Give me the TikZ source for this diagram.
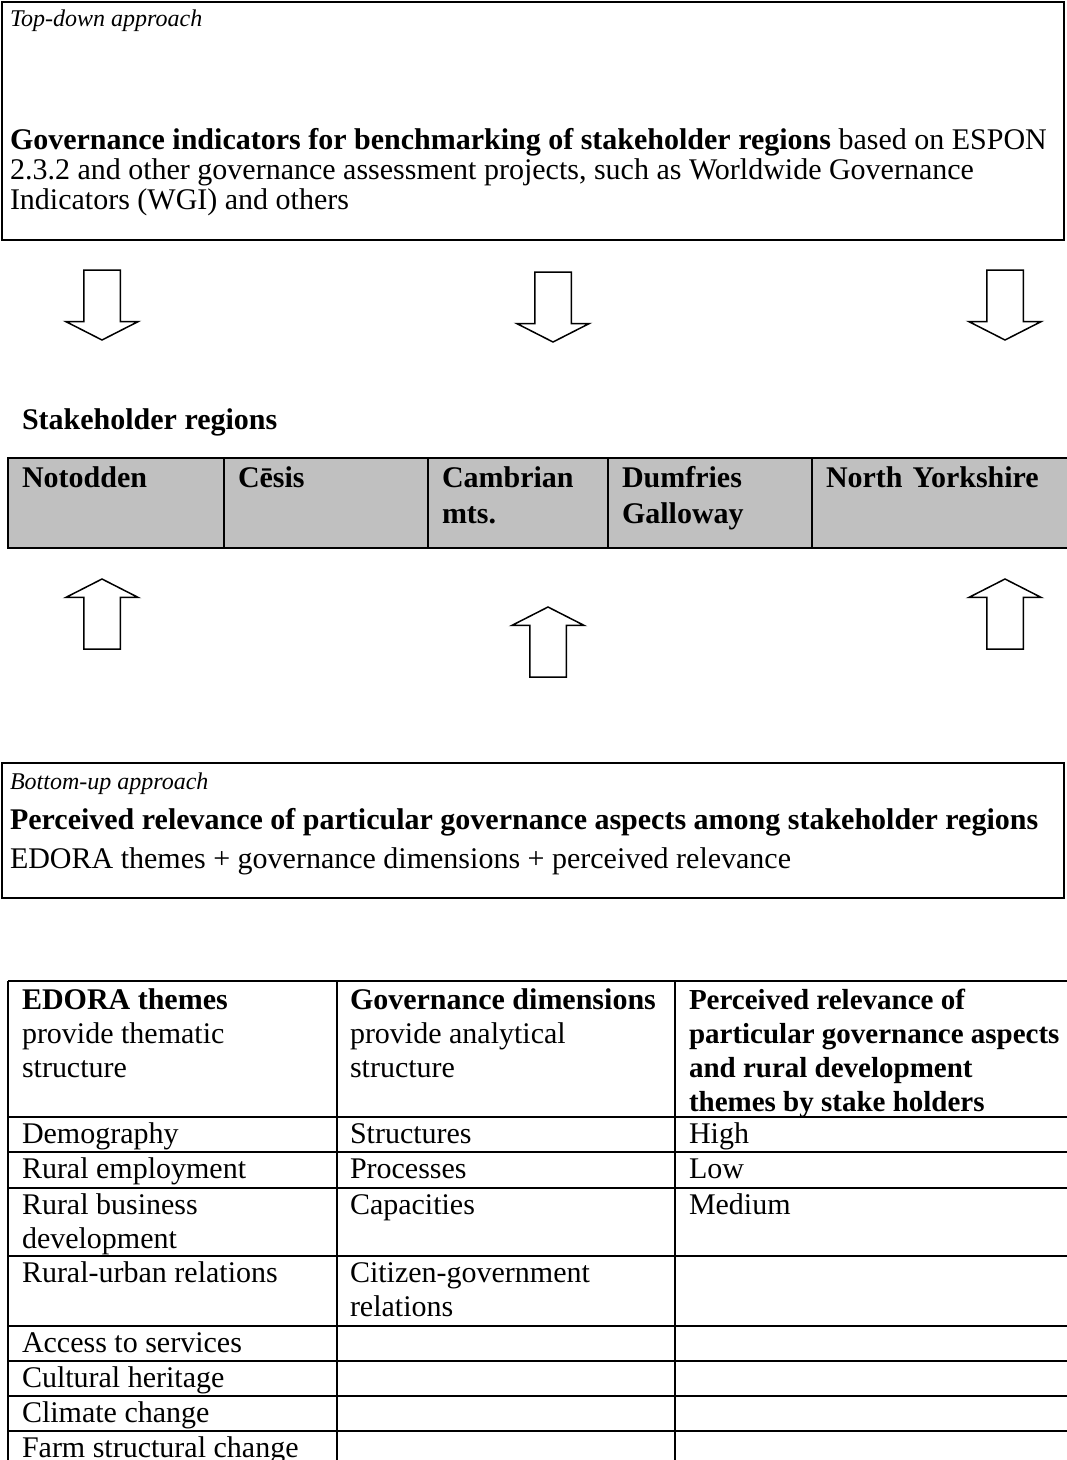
\documentclass[tikz,border=0pt]{standalone}
\usepackage{fontspec}
\setmainfont{Liberation Serif}
\usepackage{tikz}
\usetikzlibrary{positioning,shapes.arrows}
\definecolor{cellgrey}{RGB}{192,192,192}

\begin{document}
\begin{tikzpicture}[
  x=1pt, y=-1pt,
  every node/.style={inner sep=0pt, outer sep=0pt},
  frame/.style={draw, line width=2pt, anchor=north west, minimum width=1062pt},
  txt/.style={anchor=base west, align=left, font=\fontsize{30}{30}\selectfont},
  note/.style={anchor=base west, font=\fontsize{24}{24}\selectfont\itshape},
  cell/.style={anchor=base west, align=left, font=\fontsize{30}{34}\selectfont},
  regcell/.style={draw, line width=2pt, fill=cellgrey, anchor=north west, align=left,
    font=\fontsize{30}{36}\selectfont\bfseries, minimum height=90pt,
    inner xsep=14pt, inner ysep=9pt, text height=20pt, text depth=52pt},
  blockarrow/.style={single arrow, draw, line width=1.5pt, minimum height=70pt,
    minimum width=71pt, inner sep=17.5pt,
    single arrow head extend=18pt, single arrow tip angle=126}
]
\useasboundingbox (0,0) rectangle (1067,1460);
\clip (0,0) rectangle (1067,1460);

% top-down box (multi-line nodes sit on the baseline of their last line)
\node[frame, minimum height=238pt] (topbox) at (2,2) {};
\node[note] (topnote) at (10,26) {Top-down approach};
\node[txt] (toptext) at (10,209) {\textbf{Governance indicators for benchmarking of stakeholder regions} based on ESPON\\
  2.3.2 and other governance assessment projects, such as Worldwide Governance\\
  Indicators (WGI) and others};

% arrows down
\node[blockarrow, shape border rotate=270, anchor=tail] (down1) at (102,270) {};
\node[blockarrow, shape border rotate=270, anchor=tail] (down2) at (553,272) {};
\node[blockarrow, shape border rotate=270, anchor=tail] (down3) at (1005,270) {};

% stakeholder regions
\node[txt, font=\fontsize{30}{30}\selectfont\bfseries] (reglabel) at (22,429) {Stakeholder regions};
\node[regcell, text width=188pt] (notodden) at (8,458) {Notodden};
\node[regcell, text width=176pt, right=0pt of notodden] (cesis) {Cēsis};
\node[regcell, text width=152pt, right=0pt of cesis] (cambrian) {Cambrian\\mts.};
\node[regcell, text width=176pt, right=0pt of cambrian] (dumfries) {Dumfries\\Galloway};
\node[regcell, text width=250pt, right=0pt of dumfries] (yorkshire) {North Yorkshire};

% arrows up
\node[blockarrow, shape border rotate=90, anchor=tail] (up1) at (102,649) {};
\node[blockarrow, shape border rotate=90, anchor=tail] (up2) at (548,677) {};
\node[blockarrow, shape border rotate=90, anchor=tail] (up3) at (1005,649) {};

% bottom-up box
\node[frame, minimum height=135pt] (botbox) at (2,763) {};
\node[note] (botnote) at (10,789) {Bottom-up approach};
\node[txt, font=\fontsize{30}{30}\selectfont\bfseries] (bottext) at (10,829) {Perceived relevance of particular governance aspects among stakeholder regions};
\node[txt] (botsum) at (10,868) {EDORA themes + governance dimensions + perceived relevance};

% table grid
\foreach \y in {981,1117,1152,1188,1256,1326,1361,1396,1431,1466}
  \draw[line width=2pt] (8,\y) -- (1090,\y);
\foreach \x in {8,337,675}
  \draw[line width=2pt] (\x,981) -- (\x,1480);

% header row
\node[cell] (themes) at (22,1077) {\textbf{EDORA themes}\\provide thematic\\structure};
\node[cell] (dims) at (350,1077) {\textbf{Governance dimensions}\\provide analytical\\structure};
\node[cell, font=\fontsize{29}{34}\selectfont\bfseries] (relev) at (689,1111) {Perceived relevance of\\particular governance aspects\\and rural development\\themes by stake holders};

% table body
\node[cell] (t1) at (22,1143) {Demography};
\node[cell] (t2) at (22,1178) {Rural employment};
\node[cell] (t3) at (22,1248) {Rural business\\development};
\node[cell] (t4) at (22,1282) {Rural-urban relations};
\node[cell] (t5) at (22,1352) {Access to services};
\node[cell] (t6) at (22,1387) {Cultural heritage};
\node[cell] (t7) at (22,1422) {Climate change};
\node[cell] (t8) at (22,1457) {Farm structural change};
\node[cell] (d1) at (350,1143) {Structures};
\node[cell] (d2) at (350,1178) {Processes};
\node[cell] (d3) at (350,1214) {Capacities};
\node[cell] (d4) at (350,1316) {Citizen-government\\relations};
\node[cell] (p1) at (689,1143) {High};
\node[cell] (p2) at (689,1178) {Low};
\node[cell] (p3) at (689,1214) {Medium};
\end{tikzpicture}
\end{document}
